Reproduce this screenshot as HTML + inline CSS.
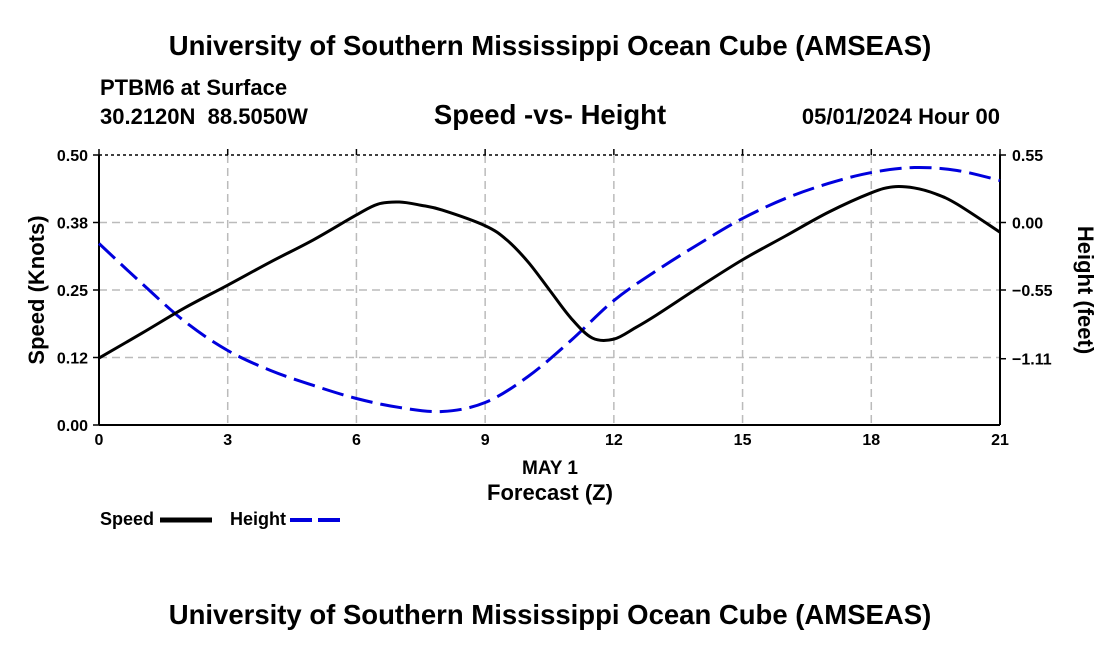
<!DOCTYPE html>
<html><head><meta charset="utf-8"><style>
body{margin:0;background:#fff;}
svg text{font-family:"Liberation Sans",Arial,sans-serif;font-weight:bold;fill:#000;}
</style></head><body>
<svg id="chart" width="1100" height="650" xmlns="http://www.w3.org/2000/svg">
<text x="550" y="55" font-size="27.5" text-anchor="middle">University of Southern Mississippi Ocean Cube (AMSEAS)</text>
<text x="100" y="95" font-size="22">PTBM6 at Surface</text>
<text x="100" y="124" font-size="22">30.2120N&#160;&#160;88.5050W</text>
<text x="550" y="124" font-size="27.5" text-anchor="middle">Speed -vs- Height</text>
<text x="1000" y="124" font-size="22" text-anchor="end">05/01/2024 Hour 00</text>
<g id="grid"></g>
<g id="axes"></g>
<g id="series"></g>
<text x="550" y="474" font-size="19" text-anchor="middle">MAY 1</text>
<text x="550" y="500" font-size="22" text-anchor="middle">Forecast (Z)</text>
<text transform="translate(44,290) rotate(-90)" font-size="22" text-anchor="middle">Speed (Knots)</text>
<text transform="translate(1078,290) rotate(90)" font-size="22" text-anchor="middle">Height (feet)</text>
<g>
<text x="100" y="525" font-size="18">Speed</text>
<line x1="160" y1="520" x2="212" y2="520" stroke="#000" stroke-width="5"/>
<text x="230" y="525" font-size="18">Height</text>
<line x1="290" y1="520" x2="342" y2="520" stroke="#0000dd" stroke-width="4" stroke-dasharray="22,6"/>
</g>
<text x="550" y="624" font-size="27.5" text-anchor="middle">University of Southern Mississippi Ocean Cube (AMSEAS)</text>
</svg>
<script>
const hours=[0,1,2,3,4,5,6,6.5,7,7.5,8,9,9.5,10,10.5,11,11.5,12,12.5,13,14,15,16,17,18,18.5,19,19.5,20,21];
const speed=[0.124,0.170,0.217,0.259,0.302,0.343,0.389,0.409,0.413,0.407,0.398,0.369,0.343,0.302,0.25,0.198,0.161,0.159,0.180,0.204,0.256,0.306,0.35,0.394,0.43,0.441,0.439,0.428,0.409,0.357];
const hHours=[0,1,2,3,4,5,6,7,8,9,10,11,12,13,14,15,16,17,18,19,20,21];
const height=[-0.171,-0.497,-0.807,-1.043,-1.206,-1.328,-1.434,-1.507,-1.54,-1.467,-1.255,-0.961,-0.636,-0.391,-0.171,0.033,0.196,0.318,0.407,0.448,0.424,0.342];
const xTicks=[0,3,6,9,12,15,18,21];
const yTicks=[0,0.125,0.25,0.375,0.5];
const yTickLabels=["0.00","0.12","0.25","0.38","0.50"];
const rTicks=[0.55,0,-0.55,-1.11];
const rTickLabels=["0.55","0.00","\u22120.55","\u22121.11"];
const L=99,R=1000,T=155,B=425;
const xs=h=>L+(h/21)*(R-L);
const ys=v=>B-(v/0.5)*(B-T);
const yr=v=>T+(0.55-v)/2.2*(B-T);
const NS="http://www.w3.org/2000/svg";
function mk(p,tag,a){const e=document.createElementNS(NS,tag);for(const k in a)e.setAttribute(k,a[k]);p.appendChild(e);return e;}
function smooth(pts){let d='M'+pts[0][0]+','+pts[0][1];
 for(let i=0;i<pts.length-1;i++){const p0=pts[i-1]||pts[i],p1=pts[i],p2=pts[i+1],p3=pts[i+2]||p2;
  const c1x=p1[0]+(p2[0]-p0[0])/6,c1y=p1[1]+(p2[1]-p0[1])/6,c2x=p2[0]-(p3[0]-p1[0])/6,c2y=p2[1]-(p3[1]-p1[1])/6;
  d+='C'+c1x+','+c1y+' '+c2x+','+c2y+' '+p2[0]+','+p2[1];}
 return d;}
const grid=document.getElementById('grid'),axes=document.getElementById('axes'),ser=document.getElementById('series');
xTicks.forEach(t=>{const x=xs(t);
 if(t>0&&t<21){const g=mk(grid,'line',{x1:x,y1:T,x2:x,y2:B,stroke:'#bbb','stroke-width':1.5,'stroke-dasharray':'8,5'});
 
 }
 const tk=mk(axes,'line',{x1:x,y1:T-6,x2:x,y2:T,stroke:'#000','stroke-width':1.5});
 
 
 const tx=mk(axes,'text',{x:x,y:B+20,'font-size':16,'text-anchor':'middle'});tx.textContent=t;
 
 
});
yTicks.forEach((t,i)=>{const y=ys(t);
 if(t>0&&t<0.5){const g=mk(grid,'line',{x1:L,y1:y,x2:R,y2:y,stroke:'#bbb','stroke-width':1.5,'stroke-dasharray':'8,5'});
 
 }
 const tk=mk(axes,'line',{x1:L-6,y1:y,x2:L,y2:y,stroke:'#000','stroke-width':1.5});
 
 
 const tx=mk(axes,'text',{x:L-11,y:y+6,'font-size':16,'text-anchor':'end'});tx.textContent=yTickLabels[i];
 
 
});
rTicks.forEach((t,i)=>{const y=yr(t);
 const tk=mk(axes,'line',{x1:R,y1:y,x2:R+6,y2:y,stroke:'#000','stroke-width':1.5});
 
 
 const tx=mk(axes,'text',{x:R+12,y:y+6,'font-size':16});tx.textContent=rTickLabels[i];
 
 
});
const topBorder=mk(axes,'line',{x1:L,y1:T,x2:R,y2:T,stroke:'#000','stroke-width':1.5,'stroke-dasharray':'3,3'});


[[L,T,L,B],[R,T,R,B],[L,B,R,B]].forEach(c=>{const a=mk(axes,'line',{x1:c[0],y1:c[1],x2:c[2],y2:c[3],stroke:'#000','stroke-width':2});
 
 });
const hp=mk(ser,'path',{d:smooth(hHours.map((h,i)=>[xs(h),yr(height[i])])),fill:'none',stroke:'#0000dd','stroke-width':3,'stroke-dasharray':'22,8'});


const sp=mk(ser,'path',{d:smooth(hours.map((h,i)=>[xs(h),ys(speed[i])])),fill:'none',stroke:'#000','stroke-width':3,'stroke-linejoin':'round'});


</script>
</body></html>
